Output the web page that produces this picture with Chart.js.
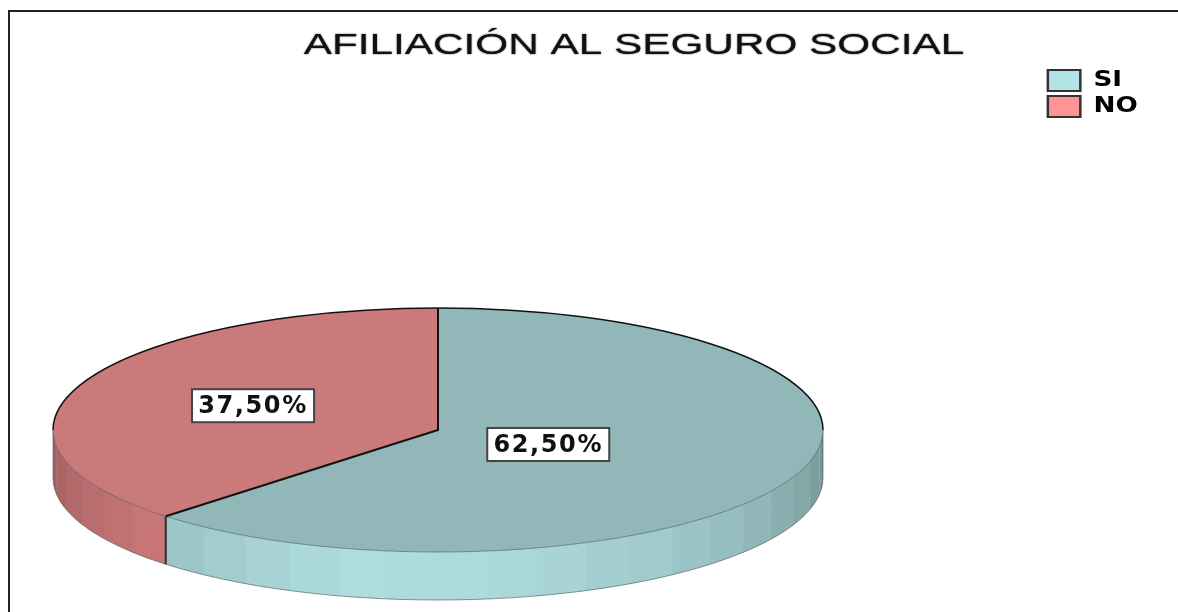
<!DOCTYPE html>
<html>
<head>
<meta charset="utf-8">
<title>Afiliación al seguro social</title>
<script src="https://cdn.jsdelivr.net/npm/chart.js@4"></script>
<style>
    html, body { margin: 0; padding: 0; background: #fff; overflow: hidden; }
    #wrap { position: relative; width: 1178px; height: 612px; }
    #pieChart { filter: blur(0.45px); }
    #frame { position: absolute; left: 8px; top: 10px; right: 0; bottom: 0; border-left: 2px solid #222; border-top: 2px solid #222; pointer-events: none; }
</style>
</head>
<body>
<div id="wrap">
    <canvas id="pieChart" width="1178" height="612"></canvas>
    <div id="frame"></div>
</div>
<script>
    const chartTitle = "AFILIACIÓN AL SEGURO SOCIAL";
    const categories = ["SI", "NO"];
    const percentages = [62.5, 37.5];
    const percentLabels = ["62,50%", "37,50%"];
    const topColors = ["#92b7b8", "#ca7a7a"];
    const legendColors = ["#b2e3e5", "#ff9494"];
    const wallColors = [[175, 221, 223], [230, 135, 137]];

    // where the flattened pie sits on the page
    const pieX = 438, pieY = 430, pieRadius = 385, squash = 122 / 385, depth = 48;
    const labelDistance = [0.31, 0.52];
    const facet = Math.PI / 24;
    // the original picture is stretched sideways, so title and legend get the same stretch
    const titleStretch = 1.41, legendStretch = 1.25;

    function shade(angle) {
        const peak = Math.PI * 7 / 12;
        if (angle < peak) return 0.66 + 0.34 * Math.sin(angle / peak * Math.PI / 2);
        return 1 - (angle - peak) / (Math.PI - peak) * 0.3;
    }

    function flatten(ctx, arc) {
        ctx.translate(pieX, pieY);
        ctx.scale(1, squash);
        ctx.translate(-arc.x, -arc.y);
    }

    function strokeFlat(ctx, arc, color, width, trace) {
        ctx.save();
        flatten(ctx, arc);
        ctx.beginPath();
        trace();
        ctx.setTransform(1, 0, 0, 1, 0, 0);
        ctx.strokeStyle = color;
        ctx.lineWidth = width;
        ctx.stroke();
        ctx.restore();
    }

    function stretchBox(ctx, box, pivot, sx, dx, dy, glow) {
        const draw = box.draw.bind(box);
        box.draw = function (area) {
            ctx.save();
            ctx.translate(pivot + dx, dy);
            ctx.scale(sx, 1);
            ctx.translate(-pivot, 0);
            if (glow) {
                ctx.shadowColor = "#111";
                ctx.shadowBlur = glow;
            }
            draw(area);
            ctx.restore();
        };
    }

    const pie3d = {
        id: "pie3d",
        afterLayout(chart) {
            stretchBox(chart.ctx, chart.titleBlock, 634, titleStretch, 0, 0, 1.5);
            stretchBox(chart.ctx, chart.legend, 1048, legendStretch, -4, 37, 0);
        },
        beforeDatasetsDraw(chart) {
            const ctx = chart.ctx;
            const arcs = chart.getDatasetMeta(0).data;
            const arc0 = arcs[0];
            const drop = depth / squash;

            // side wall, one facet at a time, only the front half shows
            ctx.save();
            flatten(ctx, arc0);
            arcs.forEach((arc, i) => {
                const from = Math.max(arc.startAngle, 0);
                const to = Math.min(arc.endAngle, Math.PI);
                for (let n = 0; n < 24; n++) {
                    const a = Math.max(n * facet, from);
                    const b = Math.min((n + 1) * facet + 0.004, to);
                    if (b <= a) continue;
                    const f = shade(n * facet + facet / 2);
                    const c = wallColors[i].map(v => Math.round(v * f));
                    ctx.beginPath();
                    ctx.arc(arc.x, arc.y, pieRadius, a, b);
                    ctx.arc(arc.x, arc.y + drop, pieRadius, b, a, true);
                    ctx.closePath();
                    ctx.fillStyle = "rgb(" + c.join(",") + ")";
                    ctx.fill();
                }
            });
            ctx.restore();

            // thin edge under the wall and the seam between the two colours
            strokeFlat(ctx, arc0, "rgba(60,70,70,0.55)", 1, () => {
                ctx.arc(arc0.x, arc0.y + drop, pieRadius, 0, Math.PI);
                ctx.moveTo(arc0.x + pieRadius, arc0.y);
                ctx.lineTo(arc0.x + pieRadius, arc0.y + drop);
                ctx.moveTo(arc0.x - pieRadius, arc0.y);
                ctx.lineTo(arc0.x - pieRadius, arc0.y + drop);
            });
            const sx = arc0.x + pieRadius * Math.cos(arc0.endAngle);
            const sy = arc0.y + pieRadius * Math.sin(arc0.endAngle);
            strokeFlat(ctx, arc0, "#2a3232", 2, () => {
                ctx.moveTo(sx, sy);
                ctx.lineTo(sx, sy + drop);
            });

            ctx.save();
            flatten(ctx, arc0);
        },
        afterDatasetsDraw(chart) {
            const ctx = chart.ctx;
            const arcs = chart.getDatasetMeta(0).data;
            const arc = arcs[0];
            ctx.restore();

            // back rim and the two radii in black, front rim faint
            strokeFlat(ctx, arc, "#111", 1.5, () => {
                ctx.arc(arc.x, arc.y, pieRadius, Math.PI, Math.PI * 2);
            });
            strokeFlat(ctx, arc, "rgba(70,85,85,0.6)", 1, () => {
                ctx.arc(arc.x, arc.y, pieRadius, 0, Math.PI);
            });
            strokeFlat(ctx, arc, "#111", 2, () => {
                ctx.moveTo(arc.x, arc.y - pieRadius);
                ctx.lineTo(arc.x, arc.y);
                ctx.lineTo(arc.x + pieRadius * Math.cos(arc.endAngle), arc.y + pieRadius * Math.sin(arc.endAngle));
            });

            // value labels
            ctx.save();
            ctx.font = "bold 24px 'DejaVu Sans'";
            ctx.letterSpacing = "1.6px";
            ctx.textAlign = "center";
            ctx.textBaseline = "middle";
            arcs.forEach((a, i) => {
                const mid = (a.startAngle + a.endAngle) / 2;
                const x = pieX + pieRadius * labelDistance[i] * Math.cos(mid);
                const y = pieY + pieRadius * labelDistance[i] * squash * Math.sin(mid);
                ctx.fillStyle = "#fff";
                ctx.fillRect(x - 61, y - 16.5, 122, 33);
                ctx.strokeStyle = "#444";
                ctx.lineWidth = 2;
                ctx.strokeRect(x - 61, y - 16.5, 122, 33);
                ctx.fillStyle = "#111";
                ctx.fillText(percentLabels[i], x, y + 1);
            });
            ctx.restore();
        }
    };

    new Chart(document.getElementById("pieChart"), {
        type: "pie",
        data: {
            labels: categories,
            datasets: [{
                data: percentages,
                backgroundColor: topColors,
                borderWidth: 0,
                radius: pieRadius,
                clip: false
            }]
        },
        plugins: [pie3d],
        options: {
            responsive: false,
            animation: false,
            layout: { padding: { left: 135, right: 45, top: 28, bottom: 0 } },
            plugins: {
                tooltip: { enabled: false },
                title: {
                    display: true,
                    text: chartTitle,
                    color: "#111",
                    font: { family: "'Liberation Sans'", size: 30, weight: "normal" },
                    padding: { top: 0, bottom: 6 }
                },
                legend: {
                    position: "right",
                    align: "start",
                    labels: {
                        boxWidth: 26,
                        boxHeight: 21,
                        padding: 5,
                        color: "#111",
                        font: { family: "'DejaVu Sans'", size: 21, weight: "bold" },
                        generateLabels() {
                            return categories.map((c, i) => ({
                                text: c,
                                fillStyle: legendColors[i],
                                strokeStyle: "#333",
                                lineWidth: 2,
                                index: i
                            }));
                        }
                    }
                }
            }
        }
    });
</script>
</body>
</html>
